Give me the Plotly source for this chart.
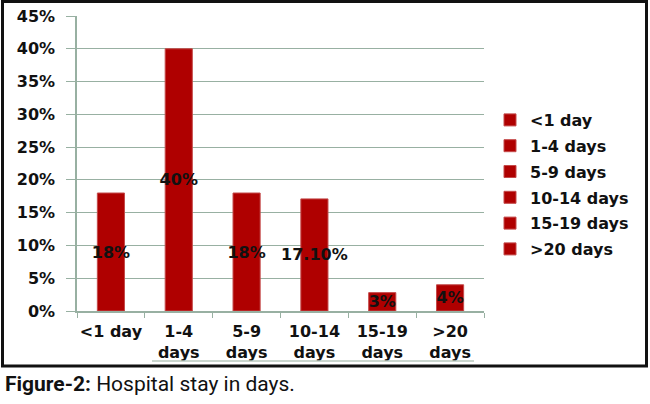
import plotly.graph_objects as go

categories = ["<1 day", "1-4 days", "5-9 days", "10-14 days", "15-19 days", ">20 days"]
tick_labels = ["<1 day", "1-4<br>days", "5-9<br>days", "10-14<br>days", "15-19<br>days", ">20<br>days"]
percent = [18, 40, 18, 17.1, 2.8, 4]
bar_text = ["18%", "40%", "18%", "17.10%", "3%", "4%"]

W, H = 650, 404
ml, mr, mt, mb = 77, 166, 16, 93
pw, ph = W - ml - mr, H - mt - mb

def px_x(x):
    return (x - ml) / pw

def px_y(y):
    return (H - mb - y) / ph

font_main = "DejaVu Sans"
bar_red = "#af0000"
grid_col = "#98b0a2"
txt_font = dict(family=font_main, size=16, color="#111111", weight="bold")

fig = go.Figure()
for i, cat in enumerate(categories):
    fig.add_trace(go.Bar(
        x=[tick_labels[i]], y=[percent[i]], name=cat,
        text=[bar_text[i]], textposition="inside", insidetextanchor="middle",
        constraintext="none", textangle=0,
        textfont=txt_font,
        marker=dict(color=bar_red, line=dict(color="#c44a4a", width=1)),
        width=0.4, legendgroup=str(i),
    ))

fig.update_layout(
    width=W, height=H,
    margin=dict(l=ml, r=mr, t=mt, b=mb, autoexpand=False),
    paper_bgcolor="white", plot_bgcolor="white",
    barmode="overlay",
    showlegend=True,
    legend=dict(x=px_x(490), y=px_y(103), xanchor="left", yanchor="top",
                font=txt_font, tracegroupgap=2, itemwidth=30,
                bgcolor="rgba(0,0,0,0)"),
    xaxis=dict(type="category", categoryorder="array", categoryarray=tick_labels,
               showline=True, linecolor=grid_col, linewidth=1.5,
               ticks="outside", tickson="boundaries", ticklen=5, tickcolor=grid_col,
               tickfont=txt_font, tickangle=0, ticklabelstandoff=5, automargin=False,
               showgrid=False),
    yaxis=dict(range=[0, 45], dtick=5, tickformat=".0f", ticksuffix="%",
               showline=True, linecolor=grid_col, linewidth=1.5,
               showgrid=True, gridcolor=grid_col, gridwidth=1.2,
               ticks="outside", ticklen=9, tickcolor=grid_col,
               tickfont=txt_font, ticklabelstandoff=8, automargin=False,
               zeroline=False),
    shapes=[
        dict(type="rect", xref="paper", yref="paper",
             x0=px_x(2.5), x1=px_x(646.5), y0=px_y(366), y1=px_y(1.5),
             line=dict(color="#111111", width=3), fillcolor="rgba(0,0,0,0)"),
        dict(type="line", xref="paper", yref="paper",
             x0=px_x(152), x1=px_x(474), y0=px_y(361), y1=px_y(361),
             line=dict(color="#b8c8be", width=1.5)),
    ],
    annotations=[
        dict(xref="paper", yref="paper", x=px_x(3), y=px_y(384),
             xanchor="left", yanchor="middle", showarrow=False,
             text="<b>Figure-2:</b> Hospital stay in days.",
             font=dict(family="Roboto, Liberation Sans", size=21, color="#111111")),
    ],
)

fig.write_html("out.html", config={"displayModeBar": False},
               post_script="document.body.style.margin='0';")
